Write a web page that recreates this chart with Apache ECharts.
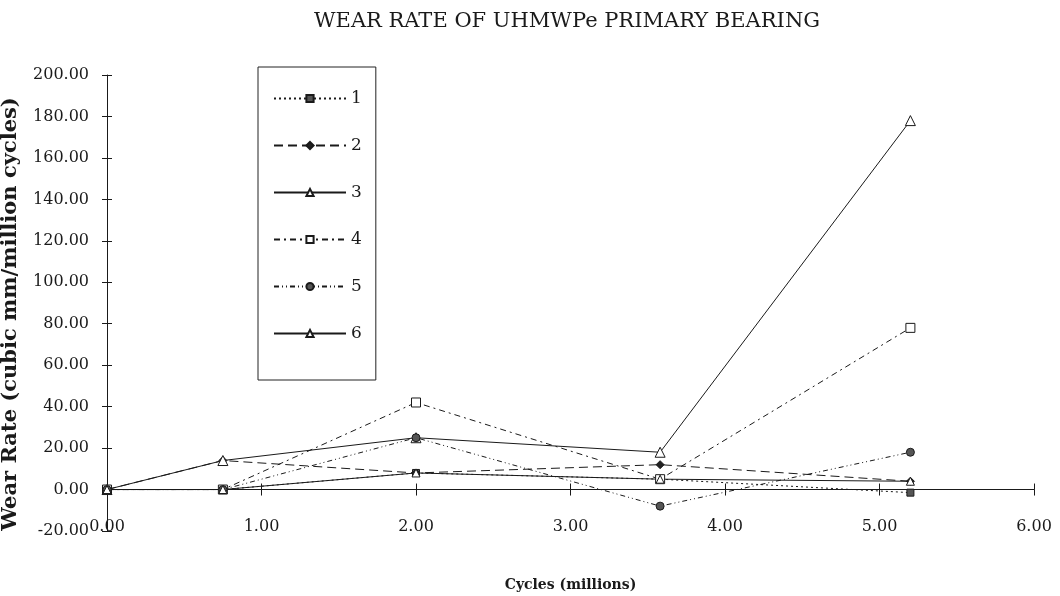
<!DOCTYPE html>
<html>
<head>
<meta charset="utf-8">
<script src="https://cdn.jsdelivr.net/npm/echarts@6/dist/echarts.min.js"></script>
<style>html,body{margin:0;padding:0;background:#fff}#c{width:1060px;height:596px}</style>
</head>
<body>
<div id="c"></div>
<script>
// ---- data ----
const cycles = [0, 0.75, 2.0, 3.58, 5.2];
const seriesNames = ['1', '2', '3', '4', '5', '6'];
const s1 = [0, 0, 8, 5, -1.5];
const s2 = [0, 14, 8, 12, 4];
const s3 = [0, 14, 25, 18, 178];
const s4 = [0, 0, 42, 5, 78];
const s5 = [0, 0, 25, -8, 18];
const s6 = [0, 0, 8, 5, 4];
const titleText = 'WEAR RATE OF UHMWPe PRIMARY BEARING';
const xName = 'Cycles (millions)';
const yName = 'Wear Rate (cubic mm/million cycles)';

const FONT = 'DejaVu Serif';
const INK = '#1a1a1a';
const pairs = v => cycles.map((x, i) => [x, v[i]]);

const styles = [
  { data: s1, dash: [2, 3], symbol: 'rect', size: 7, fill: '#555' },
  { data: s2, dash: [9, 5], symbol: 'diamond', size: 8, fill: '#222' },
  { data: s3, dash: 'solid', symbol: 'triangle', size: 10, fill: '#fff' },
  { data: s4, dash: [6, 4, 2, 4], symbol: 'rect', size: 9, fill: '#fff' },
  { data: s5, dash: [5, 3, 1, 3, 1, 3], symbol: 'circle', size: 8, fill: '#555' },
  { data: s6, dash: 'solid', symbol: 'triangle', size: 8, fill: '#fff' }
];

const series = styles.map((s, i) => ({
  name: seriesNames[i],
  type: 'line',
  xAxisIndex: 0,
  yAxisIndex: 0,
  data: pairs(s.data),
  symbol: s.symbol,
  symbolSize: s.size,
  showSymbol: true,
  color: INK,
  lineStyle: { color: INK, width: 1, type: s.dash },
  itemStyle: { color: s.fill, borderColor: INK, borderWidth: 1 },
  emphasis: { disabled: true },
  animation: false
}));

const chart = echarts.init(document.getElementById('c'), null, { renderer: 'canvas' });
chart.setOption({
  backgroundColor: '#fff',
  animation: false,
  title: {
    text: titleText,
    left: 562, top: 6, textAlign: 'center',
    textStyle: { fontFamily: FONT, fontSize: 21, fontWeight: 'normal', color: INK }
  },
  legend: {
    orient: 'vertical',
    left: 258, top: 67,
    padding: [23, 14, 38, 15],
    borderColor: '#222', borderWidth: 1,
    itemWidth: 72, itemHeight: 9, itemGap: 30,
    textStyle: { fontFamily: FONT, fontSize: 17, color: INK, lineHeight: 16 },
    data: seriesNames
  },
  grid: { left: 107, right: 26, top: 75, bottom: 65, outerBoundsMode: 'none', containLabel: false },
  xAxis: [{
    type: 'value', min: 0, max: 6, interval: 1,
    name: xName, nameLocation: 'middle', nameGap: 47,
    nameTextStyle: { fontFamily: FONT, fontSize: 14, fontWeight: 'bold', color: INK },
    axisLine: { onZero: true, lineStyle: { color: INK, width: 1 } },
    axisTick: { show: true, length: 6, lineStyle: { color: INK } },
    axisLabel: { margin: -12, fontFamily: FONT, fontSize: 16, color: INK, formatter: v => v.toFixed(2) },
    splitLine: { show: false }
  }, {
    type: 'value', min: 0, max: 6, interval: 1, position: 'bottom',
    axisLine: { onZero: true, onZeroAxisIndex: 0, lineStyle: { color: INK } },
    axisTick: { show: true, inside: true, length: 6, lineStyle: { color: INK } },
    axisLabel: { show: false },
    splitLine: { show: false }
  }],
  yAxis: [{
    type: 'value', min: -20, max: 200, interval: 20,
    name: yName, nameLocation: 'middle', nameGap: 86,
    nameTextStyle: { fontFamily: FONT, fontSize: 21, fontWeight: 'bold', color: INK, padding: [0, 22, 0, 0] },
    axisLine: { show: true, onZero: false, lineStyle: { color: INK, width: 1 } },
    axisTick: { show: true, length: 5, lineStyle: { color: INK } },
    axisLabel: { margin: 18, fontFamily: FONT, fontSize: 16, color: INK, formatter: v => v.toFixed(2) },
    splitLine: { show: false }
  }, {
    type: 'value', min: -20, max: 200, interval: 20, position: 'left',
    axisLine: { show: false, onZero: false },
    axisTick: { show: true, inside: true, length: 5, lineStyle: { color: INK } },
    axisLabel: { show: false },
    splitLine: { show: false }
  }],
  series: series
});
</script>
</body>
</html>
